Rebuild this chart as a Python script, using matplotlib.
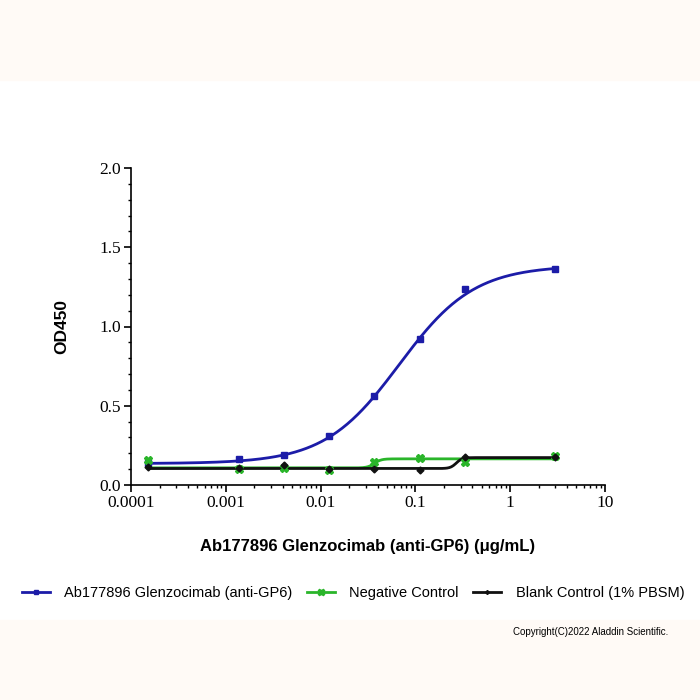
import numpy as np
import matplotlib
matplotlib.use("Agg")
import matplotlib.pyplot as plt
from matplotlib.patches import Rectangle
from matplotlib.ticker import FixedLocator, MultipleLocator, LogLocator, NullFormatter

# concentrations (ug/mL)
conc = [0.000152, 0.00137, 0.00412, 0.0123, 0.037, 0.111, 0.333, 3.0]

# measured OD450
od_ab = [0.137, 0.164, 0.189, 0.309, 0.564, 0.922, 1.236, 1.364]
od_neg = [0.158, 0.100, 0.105, 0.095, 0.147, 0.168, 0.147, 0.183]
od_blank = [0.115, 0.105, 0.126, 0.102, 0.099, 0.095, 0.175, 0.175]

# 4PL fit parameters: bottom, top, ec50, hill
fit_ab = (0.135, 1.385, 0.0675, 1.1)
fit_neg = (0.108, 0.165, 0.037, 12.0)
fit_blank = (0.104, 0.173, 0.27, 14.0)

labels = ["Ab177896 Glenzocimab (anti-GP6)", "Negative Control", "Blank Control (1% PBSM)"]
colors = ["#1c1ca8", "#2ab52a", "#111111"]
markers = ["s", "X", "D"]

xticks = [0.0001, 0.001, 0.01, 0.1, 1, 10]
xticklabels = ["0.0001", "0.001", "0.01", "0.1", "1", "10"]
yticks = [0.0, 0.5, 1.0, 1.5, 2.0]
yticklabels = ["0.0", "0.5", "1.0", "1.5", "2.0"]


def four_pl(x, p):
    bottom, top, ec50, hill = p
    return bottom + (top - bottom) / (1 + (ec50 / x) ** hill)


fig = plt.figure(figsize=(7, 7), dpi=100)
cream = "#fffaf6"
fig.patches.append(Rectangle((0, 1 - 80 / 700), 1, 80 / 700, transform=fig.transFigure,
                             color=cream, zorder=0))
fig.patches.append(Rectangle((0, 0), 1, 80 / 700, transform=fig.transFigure,
                             color=cream, zorder=0))

ax = fig.add_axes([131 / 700, 1 - 485 / 700, 474 / 700, 317 / 700])

xs = np.logspace(np.log10(conc[0]), np.log10(conc[-1]), 400)
series = [(od_ab, fit_ab), (od_neg, fit_neg), (od_blank, fit_blank)]
handles = []
for (vals, fit), lab, col, mk in zip(series, labels, colors, markers):
    ax.plot(xs, four_pl(xs, fit), color=col, lw=2, zorder=3)
    ms = 5 if mk == "s" else 6 if mk == "X" else 3.5
    ax.plot(conc, vals, ls="none", marker=mk, color=col, ms=ms, zorder=4)
    h, = ax.plot([], [], color=col, lw=2, marker=mk, ms=ms - 1.5)
    handles.append(h)

ax.set_xscale("log")
ax.set_xlim(0.0001, 10)
ax.set_ylim(0, 2.0)
ax.xaxis.set_major_locator(FixedLocator(xticks))
ax.set_xticklabels(xticklabels)
ax.xaxis.set_minor_locator(LogLocator(base=10, subs=np.arange(2, 10)))
ax.xaxis.set_minor_formatter(NullFormatter())
ax.yaxis.set_major_locator(FixedLocator(yticks))
ax.set_yticklabels(yticklabels)
ax.yaxis.set_minor_locator(MultipleLocator(0.1))

for s in ["top", "right"]:
    ax.spines[s].set_visible(False)
for s in ["left", "bottom"]:
    ax.spines[s].set_linewidth(1.2)
ax.tick_params(which="major", length=5, width=1.2, labelsize=12.5, pad=2)
ax.tick_params(which="minor", length=2.5, width=1)
for t in ax.get_xticklabels() + ax.get_yticklabels():
    t.set_fontfamily("Liberation Serif")

ax.set_xlabel("Ab177896 Glenzocimab (anti-GP6) (μg/mL)", fontsize=12, fontweight="bold",
              family="Liberation Sans", labelpad=20)
ax.set_ylabel("OD450", fontsize=12.5, fontweight="bold", family="Liberation Sans", labelpad=22)

fig.legend(handles, labels, loc="center", bbox_to_anchor=(353 / 700, 1 - 593 / 700), ncol=3,
           frameon=False, prop={"family": "Liberation Sans", "size": 10.5},
           handlelength=1.9, columnspacing=1.0, handletextpad=1.0, borderaxespad=0,
           borderpad=0)

fig.text(668 / 700, 1 - 632 / 700, "Copyright(C)2022 Aladdin Scientific.", ha="right",
         va="center", fontsize=7, family="Liberation Sans")

fig.savefig("out.png", dpi=100)
